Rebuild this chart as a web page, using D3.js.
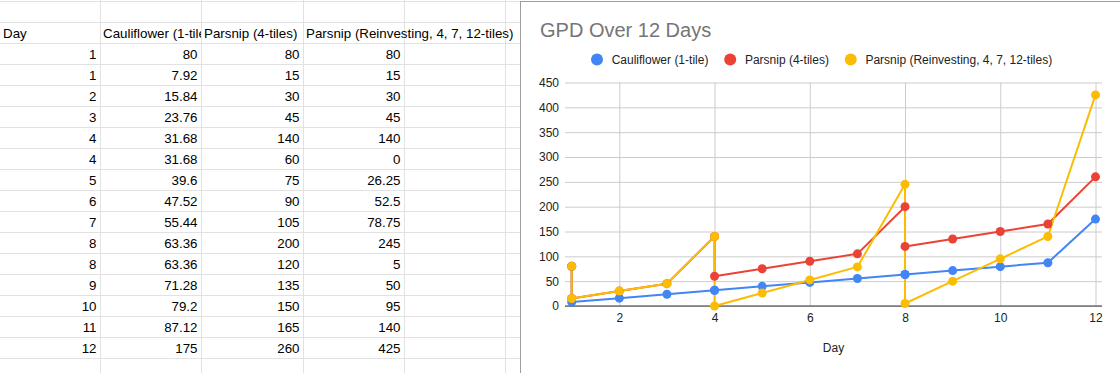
<!DOCTYPE html>
<html>
<head>
<meta charset="utf-8">
<script src="https://cdn.jsdelivr.net/npm/d3@7"></script>
<style>
  html, body { margin: 0; padding: 0; background: #fff; }
  svg { display: block; font-family: Arial, "Liberation Sans", sans-serif; }
</style>
</head>
<body>
<svg id="page"></svg>
<script>
// sheet data
const headers = ["Day", "Cauliflower (1-tile)", "Parsnip (4-tiles)", "Parsnip (Reinvesting, 4, 7, 12-tiles)"];
const days = [1, 1, 2, 3, 4, 4, 5, 6, 7, 8, 8, 9, 10, 11, 12];
const cauliflower = [80, 7.92, 15.84, 23.76, 31.68, 31.68, 39.6, 47.52, 55.44, 63.36, 63.36, 71.28, 79.2, 87.12, 175];
const parsnip = [80, 15, 30, 45, 140, 60, 75, 90, 105, 200, 120, 135, 150, 165, 260];
const parsnipReinvest = [80, 15, 30, 45, 140, 0, 26.25, 52.5, 78.75, 245, 5, 50, 95, 140, 425];

const chartTitle = "GPD Over 12 Days";
const xTitle = "Day";
const yTicks = [0, 50, 100, 150, 200, 250, 300, 350, 400, 450];
const xTicks = [2, 4, 6, 8, 10, 12];
const colors = ["#4285F4", "#EA4335", "#FBBC04"];

document.addEventListener("DOMContentLoaded", function() {
  const width = 1120;
  const height = 373;

  const svg = d3.select("#page")
                .attr("width", width)
                .attr("height", height);

  //spreadsheet grid
  const colLines = [100, 201, 303, 404, 505];
  const colLeft = [0, 100, 201, 303];
  const rowTop = 1;
  const rowH = 21;
  const nRows = days.length + 2;

  const grid = svg.append("g");
  grid.selectAll("line.row")
      .data(d3.range(nRows + 1))
      .enter().append("line")
        .attr("x1", 0).attr("x2", 520)
        .attr("y1", d => rowTop + d * rowH + 0.5)
        .attr("y2", d => rowTop + d * rowH + 0.5)
        .style("stroke", "#e2e2e2");
  grid.selectAll("line.col")
      .data(colLines)
      .enter().append("line")
        .attr("x1", d => d + 0.5).attr("x2", d => d + 0.5)
        .attr("y1", 0).attr("y2", height)
        .style("stroke", "#e2e2e2");

  // header clip for the cauliflower column
  svg.append("clipPath").attr("id", "clipB")
     .append("rect").attr("x", 100).attr("y", 0).attr("width", 101).attr("height", height);

  const headerY = rowTop + rowH + 16;
  grid.selectAll("text.head")
      .data(headers)
      .enter().append("text")
        .attr("x", (d, i) => colLeft[i] + 3)
        .attr("y", headerY)
        .attr("clip-path", (d, i) => i === 1 ? "url(#clipB)" : null)
        .style("font-size", "13.33px")
        .style("fill", "#000")
        .text(d => d);

  const columns = [days, cauliflower, parsnip, parsnipReinvest];
  columns.forEach(function(col, ci) {
    grid.selectAll("text.c" + ci)
        .data(col)
        .enter().append("text")
          .attr("x", colLines[ci] - 3.5)
          .attr("y", (d, i) => rowTop + (i + 2) * rowH + 16)
          .attr("text-anchor", "end")
          .style("font-size", "13.33px")
          .style("fill", "#000")
          .text(d => String(d));
  });

  //chart panel
  const panel = svg.append("g");
  panel.append("rect")
       .attr("x", 520.5).attr("y", 1.5)
       .attr("width", 600).attr("height", 373)
       .style("fill", "#fff")
       .style("stroke", "#9e9e9e");

  panel.append("text")
       .attr("x", 540).attr("y", 37)
       .style("font-size", "20px")
       .style("fill", "#757575")
       .text(chartTitle);

  const plotLeft = 565, plotRight = 1102;
  const x = d3.scaleLinear().domain([1, 12]).range([571.7, 1095.5]);
  const y = d3.scaleLinear().domain([0, 450]).range([306, 82.5]);

  // y gridlines + labels
  const yAxis = panel.append("g")
       .attr("transform", `translate(${plotLeft},0)`)
       .call(d3.axisLeft(y).tickValues(yTicks).tickSize(-(plotRight - plotLeft)).tickPadding(6));
  yAxis.select(".domain").remove();
  yAxis.selectAll("line").style("stroke", "#cccccc");
  yAxis.selectAll("text").style("font-size", "12px").style("fill", "#222").style("font-family", "inherit");

  // x gridlines + labels
  const xAxis = panel.append("g")
       .attr("transform", `translate(0,${y(0)})`)
       .call(d3.axisBottom(x).tickValues(xTicks).tickSize(-(y(0) - y(450))).tickPadding(7.5));
  xAxis.select(".domain").remove();
  xAxis.selectAll("line").style("stroke", "#cccccc");
  xAxis.selectAll("text").style("font-size", "12px").style("fill", "#222").style("font-family", "inherit");

  // baseline
  panel.append("line")
       .attr("x1", plotLeft).attr("x2", plotRight)
       .attr("y1", y(0)).attr("y2", y(0))
       .style("stroke", "#333");

  panel.append("text")
       .attr("x", (plotLeft + plotRight) / 2).attr("y", 352)
       .attr("text-anchor", "middle")
       .style("font-size", "12px")
       .style("fill", "#222")
       .text(xTitle);

  //series
  const series = [
    { name: headers[1], values: cauliflower },
    { name: headers[2], values: parsnip },
    { name: headers[3], values: parsnipReinvest }
  ];

  const line = d3.line()
                 .x((d, i) => x(days[i]))
                 .y(d => y(d));

  panel.selectAll("path.series")
       .data(series)
       .enter().append("path")
         .attr("d", d => line(d.values))
         .style("fill", "none")
         .style("stroke", (d, i) => colors[i])
         .style("stroke-width", 2)
         .style("stroke-linejoin", "round");

  series.forEach(function(s, si) {
    panel.selectAll("circle.p" + si)
         .data(s.values)
         .enter().append("circle")
           .attr("cx", (d, i) => x(days[i]))
           .attr("cy", d => y(d))
           .attr("r", 4.5)
           .style("fill", colors[si]);
  });

  //legend
  let lx = 597;
  series.forEach(function(s, si) {
    panel.append("circle")
         .attr("cx", lx).attr("cy", 59.5).attr("r", 6)
         .style("fill", colors[si]);
    const t = panel.append("text")
         .attr("x", lx + 14.7).attr("y", 64)
         .style("font-size", "12px")
         .style("fill", "#222")
         .text(s.name);
    lx = lx + 14.7 + t.node().getComputedTextLength() + 21.8;
  });
});
</script>
</body>
</html>
